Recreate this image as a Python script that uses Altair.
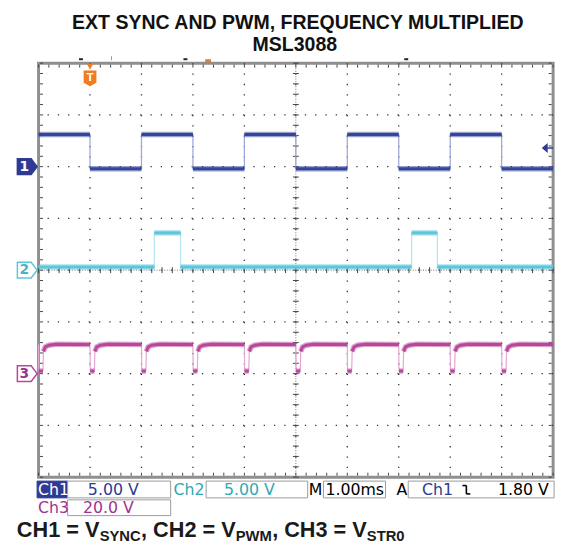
import altair as alt
import pandas as pd
import numpy as np

# ---------------- values read from the screen ----------------
# time: ms from the left edge of the graticule (1.00 ms/div, 10 divisions)
ch1_time = [0, 1, 1, 2, 2, 3, 3, 4, 4, 5, 5, 6, 6, 7, 7, 8, 8, 9, 9, 10]
ch1_volts = [3.1, 3.1, -0.2, -0.2, 3.1, 3.1, -0.2, -0.2, 3.1, 3.1,
             -0.2, -0.2, 3.1, 3.1, -0.2, -0.2, 3.1, 3.1, -0.2, -0.2]
ch2_time = [0, 2.25, 2.25, 2.76, 2.76, 7.25, 7.25, 7.75, 7.75, 10]
ch2_volts = [0.3, 0.3, 3.6, 3.6, 0.3, 0.3, 3.6, 3.6, 0.3, 0.3]
ch3_period_start = [0, 1, 2, 3, 4, 5, 6, 7, 8, 9]
ch3_cycle_offset = [0, 0.005, 0.085, 0.095, 0.13, 0.2, 0.35, 1.0]
ch3_cycle_volts = [11.3, 1.0, 1.0, 8.6, 10.3, 11.0, 11.4, 11.3]

channel_names = ["1", "2", "3"]
volts_per_div = [5.0, 5.0, 20.0]
ground_div = [2, 0, -2]
trigger_time = [1.0]
trigger_level = [1.80]

# ---------------- layout (page pixels) ----------------
X0, Y0 = 39, 60          # graticule top-left on the page
W, H = 522, 420          # graticule size

C1, C1E = "#34469c", "#9aa4d8"
C2, C2E = "#5cc6dc", "#b2e5f0"
C3, C3E = "#b8479b", "#e3a7d3"
NAVY, TEAL, MAG = "#2e3a94", "#2fa9b5", "#a2328f"
ORANGE = "#f07d22"

xs = alt.Scale(domain=[0, 10], nice=False, zero=False)
ys = alt.Scale(domain=[-4, 4], nice=False, zero=False)


def X(f):
    return alt.X(f"{f}:Q", scale=xs, axis=None)


def Y(f):
    return alt.Y(f"{f}:Q", scale=ys, axis=None)


def div_expr(k):
    return f"datum.v / {volts_per_div[k]} + {ground_div[k]}"


# waveform tables
ch1 = pd.DataFrame({"t": ch1_time, "v": ch1_volts, "i": range(len(ch1_time)),
                    "seg": [str(j // 2) for j in range(len(ch1_time))]})
ch2 = pd.DataFrame({"t": ch2_time, "v": ch2_volts, "i": range(len(ch2_time)),
                    "seg": [str(j // 2) for j in range(len(ch2_time))]})
rows = []
n = 0
for k in ch3_period_start:
    for j, (o, v) in enumerate(zip(ch3_cycle_offset, ch3_cycle_volts)):
        seg = "none" if j == 0 else (f"{k}d" if j <= 2 else f"{k}p")
        rows.append({"t": k + o, "v": v, "i": n, "seg": seg})
        n += 1
ch3 = pd.DataFrame(rows)

one = pd.DataFrame({"k": [0]})


def wave(df, k, thin, band):
    base = alt.Chart(df).transform_calculate(div=div_expr(k))
    enc = dict(x=X("t"), y=Y("div"), order="i:Q")
    edges = base.mark_line(color=thin, strokeWidth=1.2).encode(**enc)
    thick = base.transform_filter("datum.seg != 'none'")
    outer = thick.mark_line(color=band, strokeWidth=5.5, opacity=0.5).encode(detail="seg:N", **enc)
    inner = thick.mark_line(color=band, strokeWidth=3).encode(detail="seg:N", **enc)
    return [edges, outer, inner]


# graticule
gx = pd.DataFrame({"t": [1, 2, 3, 4, 5, 6, 7, 8, 9]})
gy = pd.DataFrame({"d": [-3, -2, -1, 0, 1, 2, 3]})
tk_t = pd.DataFrame({"t": np.round(np.arange(0, 10.0001, 0.2), 2)})
tk_d = pd.DataFrame({"d": np.round(np.arange(-4, 4.0001, 0.2), 2)})
cx, cy = W / 2, H / 2

grid = [
    alt.Chart(gx).mark_rule(color="#333", strokeWidth=1.3, strokeDash=[1.3, 9.2]).encode(x=X("t")),
    alt.Chart(gy).mark_rule(color="#333", strokeWidth=1.3, strokeDash=[1.3, 9.14]).encode(y=Y("d")),
    alt.Chart(one).mark_rule(color="#777", strokeWidth=1, strokeDash=[1, 1.6]).encode(
        x=alt.value(cx), y=alt.value(0), y2=alt.value(H)),
    alt.Chart(one).mark_rule(color="#777", strokeWidth=1, strokeDash=[1, 1.6]).encode(
        y=alt.value(cy), x=alt.value(0), x2=alt.value(W)),
    alt.Chart(tk_t).mark_rule(color="#444", strokeWidth=1).encode(
        x=X("t"), y=alt.value(cy - 3), y2=alt.value(cy + 3)),
    alt.Chart(tk_d).mark_rule(color="#444", strokeWidth=1).encode(
        y=Y("d"), x=alt.value(cx - 3), x2=alt.value(cx + 3)),
    alt.Chart(tk_t).mark_rule(color="#444", strokeWidth=1).encode(
        x=X("t"), y=alt.value(1.5), y2=alt.value(4.5)),
    alt.Chart(tk_t).mark_rule(color="#444", strokeWidth=1).encode(
        x=X("t"), y=alt.value(H - 4.5), y2=alt.value(H - 1.5)),
    alt.Chart(tk_d).mark_rule(color="#444", strokeWidth=1).encode(
        y=Y("d"), x=alt.value(1.5), x2=alt.value(4.5)),
    alt.Chart(tk_d).mark_rule(color="#444", strokeWidth=1).encode(
        y=Y("d"), x=alt.value(W - 4.5), x2=alt.value(W - 1.5)),
]


def px(x):
    return x - X0


def py(y):
    return y - Y0


def label(text, x, y, color="#000", size=16, font="DejaVu Sans", weight="normal",
          align="left", baseline="alphabetic"):
    return alt.Chart(one).mark_text(text=text, align=align, baseline=baseline, font=font,
                                    fontSize=size, fontWeight=weight, color=color).encode(
        x=alt.value(px(x)), y=alt.value(py(y)))


def box(x1, y1, x2, y2, fill="#ffffff", stroke="#9a9a9a"):
    return alt.Chart(one).mark_rect(fill=fill, stroke=stroke, strokeWidth=1).encode(
        x=alt.value(px(x1)), x2=alt.value(px(x2)), y=alt.value(py(y1)), y2=alt.value(py(y2)))


def seg(x1, y1, x2, y2, color="#000", w=1.6):
    return alt.Chart(one).mark_rule(color=color, strokeWidth=w).encode(
        x=alt.value(px(x1)), x2=alt.value(px(x2)), y=alt.value(py(y1)), y2=alt.value(py(y2)))


# channel ground markers
PENT = "M-1,-0.8L0.4,-0.8L1,0L0.4,0.8L-1,0.8Z"
markers = []
mstyle = [(NAVY, NAVY, "#ffffff"), ("#ffffff", C2, "#3fb8c8"), ("#ffffff", C3, MAG)]
for k in range(3):
    mdf = pd.DataFrame({"d": [ground_div[k]]})
    fill, stroke, tcol = mstyle[k]
    markers.append(alt.Chart(mdf).mark_point(shape=PENT, size=400, filled=True, fill=fill,
                                             stroke=stroke, strokeWidth=1.5, opacity=1).encode(
        x=alt.value(px(27.5)), y=Y("d")))
    markers.append(alt.Chart(mdf).mark_text(text=channel_names[k], font="DejaVu Sans", fontSize=14,
                                            fontWeight="bold", color=tcol, baseline="middle",
                                            align="center").encode(
        x=alt.value(px(24.5)), y=Y("d")))

# trigger position and level
tdf = pd.DataFrame({"t": trigger_time})
TSHAPE = "M-0.81,-1L0.81,-1L0.81,0.55L0,1L-0.81,0.55Z"
trig = [
    alt.Chart(tdf).mark_point(shape="triangle-down", size=45, filled=True, color=ORANGE, opacity=1).encode(
        x=X("t"), y=alt.value(py(63.5))),
    alt.Chart(tdf).mark_point(shape=TSHAPE, size=256, filled=True, color=ORANGE, opacity=1).encode(
        x=X("t"), y=alt.value(py(75.5))),
    alt.Chart(tdf).mark_text(text="T", font="Liberation Sans", fontSize=12, fontWeight="bold",
                             color="#ffffff", baseline="middle").encode(
        x=X("t"), y=alt.value(py(74.5))),
]
ldf = pd.DataFrame({"v": trigger_level})
lev = alt.Chart(ldf).transform_calculate(div=div_expr(0))
trig += [
    lev.mark_point(shape="M-0.6,0L0.6,-1L0.6,1Z", size=100, filled=True, color=NAVY, opacity=1).encode(
        x=alt.value(px(552.5)), y=Y("div")),
    lev.mark_rule(color=NAVY, strokeWidth=1.5).encode(
        x=alt.value(px(555)), x2=alt.value(px(561)), y=Y("div")),
]

# top-edge record markers
top_marks = [
    seg(208, 57.5, 214, 57.5, color=ORANGE, w=3),
    seg(80, 56, 84, 56, color="#222", w=2),
    seg(186, 56, 190, 56, color="#222", w=2),
    seg(410, 56, 414, 56, color="#222", w=2),
    seg(113, 53, 113, 57, color="#999", w=1),
]

# readout area
R1T, R1B, R2T, R2B = 484, 501, 503, 519
info = [
    box(37.5, R1T, 68.5, R1B, fill=NAVY, stroke=NAVY),
    box(68.5, R1T, 173, R1B),
    box(209, R1T, 312, R1B),
    box(328, R1T, 391, R1B),
    box(414, R1T, 562, R1B),
    box(68.5, R2T, 173, R2B),
    label("Ch1", 38.5, 498, color="#ffffff"),
    label("5.00 V", 89, 498, color=NAVY),
    label("Ch2", 176, 498, color=TEAL),
    label("5.00 V", 227, 498, color=TEAL),
    label("M", 313, 498, color="#000"),
    label("1.00ms", 330, 498, color="#000"),
    label("A", 402, 498, color="#000"),
    label("Ch1", 428, 498, color=NAVY),
    seg(469, 488.5, 473, 488.5),
    seg(473, 488.5, 473, 497),
    seg(473, 497, 477, 497),
    label("1.80 V", 505, 498, color="#000"),
    label("Ch3", 38.5, 516, color=MAG),
    label("20.0 V", 84, 516, color=MAG),
]

# titles
BF = "Liberation Sans"
titles = [
    label("EXT SYNC AND PWM, FREQUENCY MULTIPLIED", 302, 25, size=19.8, font=BF, weight="bold",
          align="center", color="#111111"),
    label("MSL3088", 299, 47.5, size=19.8, font=BF, weight="bold", align="center", color="#111111"),
]
foot = [
    ("CH1 = V", 17, 22, 541),
    ("SYNC", 101, 15, 545),
    (", CH2 = V", 143, 22, 541),
    ("PWM", 239, 15, 545),
    (", CH3 = V", 276, 22, 541),
    ("STR0", 372, 15, 545),
]
for txt, x, s, y in foot:
    titles.append(label(txt, x, y, size=s, font=BF, weight="bold", color="#1a1a1a"))

layers = grid + wave(ch2, 1, C2E, C2) + wave(ch3, 2, C3E, C3) + wave(ch1, 0, C1E, C1) \
    + markers + trig + top_marks + info + titles

chart = alt.layer(*layers).properties(
    width=W, height=H,
    autosize=alt.AutoSizeParams(type="none"),
    padding={"left": X0 - 8, "top": Y0 - 8, "right": 8, "bottom": 74},
    background="#ffffff",
).configure_view(stroke="#8f8f8f", strokeWidth=3)

chart.save("out.html", embed_options={"renderer": "svg", "actions": False})
